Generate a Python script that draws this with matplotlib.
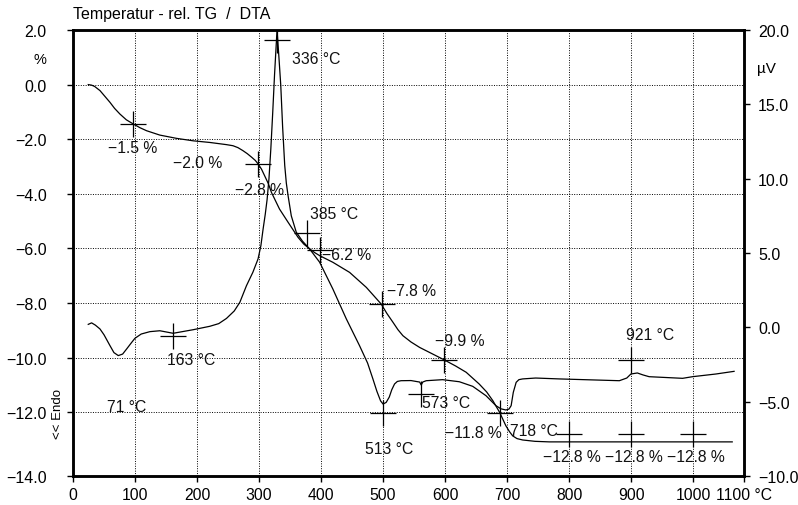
import matplotlib
matplotlib.use("Agg")
import matplotlib.pyplot as plt
from matplotlib.ticker import FixedLocator, FixedFormatter

plt.rcParams['font.family'] = ['Liberation Sans', 'DejaVu Sans']
plt.rcParams['font.size'] = 10

# ---- data ----
tg_temp = [24.6, 30, 35, 43.5, 51, 59.6, 67, 75.7, 86, 97, 108, 118.6, 140, 167, 193.8, 220.6,
           247.5, 258, 266, 274, 281, 288, 294, 298.6, 304, 309, 315, 320, 333, 347, 363, 372,
           381.6, 390, 398, 419, 446, 473, 497, 506, 516, 524, 532, 545, 559, 579, 599, 617,
           634, 655, 667, 677, 688, 698, 704, 709, 716, 725, 745, 768, 1063]
tg_pct = [0.0, -0.02, -0.07, -0.22, -0.42, -0.65, -0.87, -1.08, -1.29, -1.44, -1.58, -1.69,
          -1.85, -1.97, -2.06, -2.12, -2.2, -2.24, -2.31, -2.42, -2.53, -2.66, -2.78, -2.91,
          -3.1, -3.34, -3.63, -3.95, -4.56, -5.05, -5.6, -5.84, -6.02, -6.16, -6.27, -6.51,
          -6.88, -7.43, -8.04, -8.38, -8.71, -8.98, -9.2, -9.43, -9.63, -9.86, -10.09, -10.31,
          -10.54, -10.97, -11.26, -11.58, -12.01, -12.5, -12.72, -12.87, -12.97, -13.02, -13.07,
          -13.09, -13.09]

dta_temp = [24.6, 30, 36, 43.5, 50, 59.6, 66, 73, 80, 86.4, 93, 99.8, 110, 124, 140, 161.5,
            193.8, 220.6, 235, 247.5, 260, 269, 279.7, 290, 298.4, 303, 306.5, 310, 313, 316,
            319, 322, 325, 329, 332, 335, 338, 341.4, 344, 346.8, 352, 360, 370, 381.6, 397.7,
            419, 440.7, 462, 475, 483.6, 490, 496, 500, 505, 510, 514, 518.5, 523, 529, 545,
            556, 559, 561.5, 564, 569.6, 596, 623, 644.6, 666, 682, 690, 698, 703, 706.5, 710,
            714.6, 719, 725, 746, 784, 881, 893, 899.6, 910, 919, 929, 983, 999, 1036.6, 1066]
dta_uv = [0.2, 0.3, 0.15, -0.11, -0.5, -1.23, -1.7, -1.9, -1.8, -1.46, -1.1, -0.74, -0.45,
          -0.29, -0.23, -0.4, -0.16, 0.07, 0.25, 0.6, 1.1, 1.68, 2.8, 3.7, 4.6, 5.5, 6.6, 7.6,
          8.6, 10.0, 12.0, 14.4, 17.0, 20.0, 18.2, 16.3, 13.5, 10.9, 9.7, 8.86, 7.5, 6.4, 5.8,
          5.27, 4.38, 2.58, 0.57, -1.23, -2.4, -3.47, -4.3, -4.95, -5.16, -5.05, -4.69, -4.2,
          -3.81, -3.64, -3.59, -3.58, -3.66, -3.68, -3.88, -3.68, -3.59, -3.52, -3.66, -3.97,
          -4.6, -5.27, -5.48, -5.56, -5.5, -5.27, -4.37, -3.7, -3.52, -3.47, -3.41, -3.47,
          -3.59, -3.41, -3.14, -3.07, -3.2, -3.32, -3.43, -3.32, -3.14, -2.96]

tg_mark_temp = [97, 298.6, 398, 498.7, 599, 688, 800, 900, 1000]
tg_mark_pct = [-1.44, -2.91, -6.05, -8.04, -10.09, -12.05, -12.8, -12.8, -12.8]
dta_mark_temp = [161.5, 329, 377, 500, 561.5, 899]
dta_mark_uv = [-0.56, 19.35, 6.33, -5.78, -4.48, -2.17]

label_texts = ["−1.5 %", "−2.0 %", "−2.8 %", "336 °C", "385 °C", "−6.2 %", "−7.8 %",
               "−9.9 %", "921 °C", "163 °C", "71 °C", "573 °C", "513 °C", "−11.8 %",
               "718 °C", "−12.8 %", "−12.8 %", "−12.8 %"]
label_x = [56, 161, 261, 353, 382, 402, 506, 584, 892, 152, 55, 563, 471, 600, 705, 758, 858, 958]
label_y = [-2.29, -2.87, -3.83, 0.97, -4.71, -6.21, -7.56, -9.36, -9.14, -10.09, -11.78,
           -11.63, -13.35, -12.73, -12.69, -13.61, -13.61, -13.61]

x_ticks = [0, 100, 200, 300, 400, 500, 600, 700, 800, 900, 1000, 1082]
x_ticklabels = ["0", "100", "200", "300", "400", "500", "600", "700", "800", "900", "1000", "1100 °C"]
left_ticks = [2, 0, -2, -4, -6, -8, -10, -12, -14.34]
left_ticklabels = ["2.0", "0.0", "−2.0", "−4.0", "−6.0", "−8.0", "−10.0", "−12.0", "−14.0"]
right_ticks = [20, 15, 10, 5, 0, -5, -10]
right_ticklabels = ["20.0", "15.0", "10.0", "5.0", "0.0", "−5.0", "−10.0"]

# ---- figure ----
fig = plt.figure(figsize=(7.98, 5.06), dpi=100)
ax = fig.add_axes([73/798, 1-477/506, (744-73)/798, (477-31)/506])
ax2 = ax.twinx()

ax.set_xlim(0, 1082)
ax.set_ylim(-14.34, 2)
ax2.set_ylim(-10, 20)

# grid
for gx in x_ticks[1:-1]:
    ax.axvline(gx, color='black', lw=0.7, ls=(0, (1, 1.5)), zorder=0)
for gy in left_ticks[1:-1]:
    ax.axhline(gy, color='black', lw=0.7, ls=(0, (1, 1.5)), zorder=0)

ax.plot(tg_temp, tg_pct, color='black', lw=0.9)
ax2.plot(dta_temp, dta_uv, color='black', lw=0.9)
ax.plot(tg_mark_temp, tg_mark_pct, ls='none', marker='+', ms=19, mew=0.9, color='black')
ax2.plot(dta_mark_temp, dta_mark_uv, ls='none', marker='+', ms=19, mew=0.9, color='black')

for t, lx, ly in zip(label_texts, label_x, label_y):
    ax.text(lx, ly, t, ha='left', va='center', fontsize=11.3, color='#111111')

ax.xaxis.set_major_locator(FixedLocator(x_ticks))
ax.xaxis.set_major_formatter(FixedFormatter(x_ticklabels))
ax.yaxis.set_major_locator(FixedLocator(left_ticks))
ax.yaxis.set_major_formatter(FixedFormatter(left_ticklabels))
ax2.yaxis.set_major_locator(FixedLocator(right_ticks))
ax2.yaxis.set_major_formatter(FixedFormatter(right_ticklabels))

ax.tick_params(axis='x', direction='out', length=4, width=1, pad=4, labelsize=11.3)
ax.tick_params(axis='y', direction='out', length=4, width=1, pad=15, labelsize=11.5)
ax2.tick_params(axis='y', direction='out', length=4, width=1, pad=6, labelsize=11.5)

for a in (ax, ax2):
    for s in a.spines.values():
        s.set_linewidth(1.8)

fig.text(73/798, 1-15/506, "Temperatur - rel. TG  /  DTA", ha='left', va='center', fontsize=11.5)
fig.text(40/798, 1-60/506, "%", ha='center', va='center', fontsize=10.5)
fig.text(757/798, 1-69/506, "µV", ha='left', va='center', fontsize=11)
fig.text(58/798, 1-414/506, "<< Endo", ha='center', va='center', rotation=90, fontsize=9.5)

fig.savefig("out.png", dpi=100)
